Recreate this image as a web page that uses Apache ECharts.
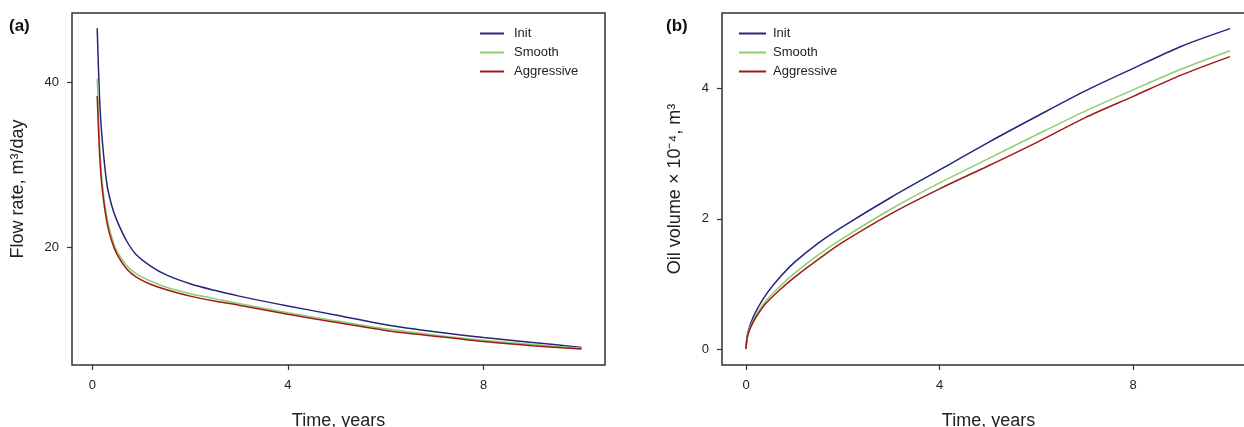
<!DOCTYPE html>
<html>
<head>
<meta charset="utf-8">
<script src="https://cdn.jsdelivr.net/npm/echarts@6/dist/echarts.min.js"></script>
<style>
html,body{margin:0;padding:0;background:#fff;}
#c{width:1244px;height:427px;}
</style>
</head>
<body>
<div id="c"></div>
<script>
// ---- Data ----
var seriesNames = ['Init', 'Smooth', 'Aggressive'];

// Panel (a): flow rate, m3/day
var timeRate = [0.1, 0.15, 0.2, 0.3, 0.4, 0.5, 0.7, 0.9, 1.2, 1.5, 2, 2.5, 3, 4, 5, 6, 7, 8, 9, 10];
var rateInit       = [46.5, 37.8, 33.2, 27.6, 25.0, 23.3, 20.8, 19.1, 17.7, 16.7, 15.6, 14.8, 14.1, 12.9, 11.8, 10.65, 9.8, 9.1, 8.5, 7.9];
var rateSmooth     = [40.4, 32.5, 28.0, 23.6, 21.2, 19.6, 17.8, 16.8, 15.9, 15.2, 14.4, 13.8, 13.2, 12.1, 11.1, 10.15, 9.4, 8.75, 8.25, 7.8];
var rateAggressive = [38.3, 31.2, 27.2, 23.0, 20.7, 19.2, 17.4, 16.4, 15.5, 14.9, 14.1, 13.5, 13.0, 11.9, 10.9, 9.95, 9.25, 8.6, 8.1, 7.7];

// Panel (b): oil volume x 1e-4, m3
var timeVol = [0, 0.02, 0.05, 0.1, 0.2, 0.4, 0.7, 1, 1.5, 2, 3, 4, 5, 6, 7, 8, 9, 10];
var volInit       = [0, 0.18, 0.28, 0.40, 0.57, 0.82, 1.10, 1.33, 1.63, 1.88, 2.33, 2.75, 3.17, 3.57, 3.96, 4.31, 4.65, 4.92];
var volSmooth     = [0, 0.16, 0.25, 0.36, 0.51, 0.73, 0.96, 1.16, 1.45, 1.70, 2.15, 2.55, 2.92, 3.29, 3.65, 3.98, 4.30, 4.58];
var volAggressive = [0, 0.15, 0.24, 0.34, 0.48, 0.69, 0.91, 1.10, 1.38, 1.64, 2.08, 2.46, 2.81, 3.17, 3.55, 3.88, 4.21, 4.49];

// Tick labels
var xTicks = [0, 4, 8];
var yTicksRate = [20, 40];
var yTicksVol = [0, 2, 4];

// ---- Chart ----
var colors = ['#25257c', '#8ccf6e', '#a01818'];
var FONT = 'Liberation Sans, Arial, sans-serif';

function pairs(xs, ys) { return xs.map(function (x, i) { return [x, ys[i]]; }); }

function xAxisCfg(gi, min, max) {
  return {
    type: 'value', gridIndex: gi, min: min, max: max, position: 'bottom',
    name: 'Time, years', nameLocation: 'middle', nameGap: 47,
    nameTextStyle: { fontSize: 18, color: '#222', fontFamily: FONT },
    axisLine: { show: false, onZero: false },
    splitLine: { show: false },
    axisTick: { show: true, inside: false, length: 5, customValues: xTicks, lineStyle: { color: '#333', width: 1.2 } },
    axisLabel: { customValues: xTicks, margin: 14, fontSize: 13, color: '#222', fontFamily: FONT }
  };
}
function yAxisCfg(gi, min, max, ticks, name, gap) {
  return {
    type: 'value', gridIndex: gi, min: min, max: max, position: 'left',
    name: name, nameLocation: 'middle', nameGap: gap,
    nameTextStyle: { fontSize: 18, color: '#222', fontFamily: FONT },
    axisLine: { show: false, onZero: false },
    splitLine: { show: false },
    axisTick: { show: true, inside: false, length: 5, customValues: ticks, lineStyle: { color: '#333', width: 1.2 } },
    axisLabel: { customValues: ticks, margin: 13, fontSize: 13, color: '#222', fontFamily: FONT }
  };
}
function lineSeries(name, xi, yi, data, ci) {
  return {
    name: name, type: 'line', xAxisIndex: xi, yAxisIndex: yi,
    data: data, showSymbol: false, smooth: 0.3,
    lineStyle: { color: colors[ci], width: 1.5 }, itemStyle: { color: colors[ci] },
    emphasis: { disabled: true }, animation: false
  };
}
function legendCfg(left, w, pad) {
  return {
    left: left, top: 27, orient: 'vertical', itemGap: 6, padding: 0,
    icon: 'rect', itemWidth: w, itemHeight: 2,
    selectedMode: false,
    data: seriesNames,
    textStyle: { fontSize: 13, color: '#222', fontFamily: FONT, padding: [0, 0, 0, pad] }
  };
}

var chart = echarts.init(document.getElementById('c'), null, { renderer: 'canvas' });
chart.setOption({
  animation: false,
  backgroundColor: '#fff',
  textStyle: { fontFamily: FONT },
  color: colors,
  title: [
    { text: '(a)', left: 4, top: 13, textStyle: { fontSize: 17, fontWeight: 'bold', color: '#111', fontFamily: FONT } },
    { text: '(b)', left: 661, top: 13, textStyle: { fontSize: 17, fontWeight: 'bold', color: '#111', fontFamily: FONT } }
  ],
  legend: [legendCfg(480, 24, 5), legendCfg(739, 27, 2)],
  grid: [
    { left: 72, top: 13, width: 533, height: 352, show: true, borderColor: '#333', borderWidth: 1.5, backgroundColor: 'transparent', containLabel: false, outerBoundsMode: 'none' },
    { left: 722, top: 13, width: 533, height: 352, show: true, borderColor: '#333', borderWidth: 1.5, backgroundColor: 'transparent', containLabel: false, outerBoundsMode: 'none' }
  ],
  xAxis: [xAxisCfg(0, -0.415, 10.48), xAxisCfg(1, -0.496, 10.516)],
  yAxis: [
    yAxisCfg(0, 5.77, 48.35, yTicksRate, 'Flow rate, m\u00b3/day', 45),
    yAxisCfg(1, -0.246, 5.16, yTicksVol, 'Oil volume \u00d7 10\u207b\u2074, m\u00b3', 38)
  ],
  series: [
    lineSeries('Init', 0, 0, pairs(timeRate, rateInit), 0),
    lineSeries('Smooth', 0, 0, pairs(timeRate, rateSmooth), 1),
    lineSeries('Aggressive', 0, 0, pairs(timeRate, rateAggressive), 2),
    lineSeries('Init', 1, 1, pairs(timeVol, volInit), 0),
    lineSeries('Smooth', 1, 1, pairs(timeVol, volSmooth), 1),
    lineSeries('Aggressive', 1, 1, pairs(timeVol, volAggressive), 2)
  ]
});
</script>
</body>
</html>
